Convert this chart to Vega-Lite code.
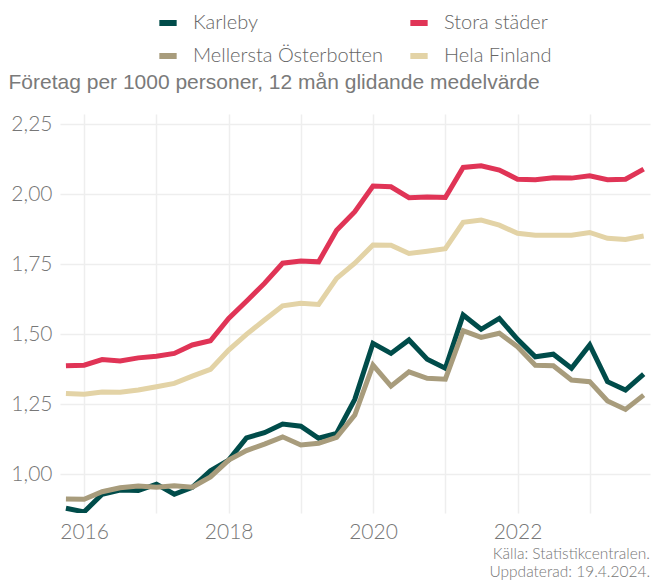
{
  "$schema": "https://vega.github.io/schema/vega-lite/v6.json",
  "autosize": {"type": "none"},
  "width": 590,
  "height": 399,
  "padding": {"left": 60, "top": 114, "right": 2, "bottom": 71},
  "background": "white",
  "config": {
    "view": {"stroke": null},
    "font": "Lato"
  },
  "title": {
    "text": ["Källa: Statistikcentralen.", "Uppdaterad: 19.4.2024."],
    "orient": "bottom",
    "anchor": "end",
    "frame": "group",
    "offset": 5,
    "font": "Lato",
    "fontSize": 15.5,
    "fontWeight": 300,
    "color": "#777777",
    "lineHeight": 18,
    "align": "right"
  },
  "data": {
    "values": [
      {"date":"2015-10-01","serie":"Stora städer","value":1.388},
      {"date":"2016-01-01","serie":"Stora städer","value":1.390},
      {"date":"2016-04-01","serie":"Stora städer","value":1.410},
      {"date":"2016-07-01","serie":"Stora städer","value":1.405},
      {"date":"2016-10-01","serie":"Stora städer","value":1.416},
      {"date":"2017-01-01","serie":"Stora städer","value":1.422},
      {"date":"2017-04-01","serie":"Stora städer","value":1.432},
      {"date":"2017-07-01","serie":"Stora städer","value":1.462},
      {"date":"2017-10-01","serie":"Stora städer","value":1.477},
      {"date":"2018-01-01","serie":"Stora städer","value":1.557},
      {"date":"2018-04-01","serie":"Stora städer","value":1.618},
      {"date":"2018-07-01","serie":"Stora städer","value":1.682},
      {"date":"2018-10-01","serie":"Stora städer","value":1.754},
      {"date":"2019-01-01","serie":"Stora städer","value":1.762},
      {"date":"2019-04-01","serie":"Stora städer","value":1.759},
      {"date":"2019-07-01","serie":"Stora städer","value":1.872},
      {"date":"2019-10-01","serie":"Stora städer","value":1.938},
      {"date":"2020-01-01","serie":"Stora städer","value":2.030},
      {"date":"2020-04-01","serie":"Stora städer","value":2.027},
      {"date":"2020-07-01","serie":"Stora städer","value":1.988},
      {"date":"2020-10-01","serie":"Stora städer","value":1.991},
      {"date":"2021-01-01","serie":"Stora städer","value":1.989},
      {"date":"2021-04-01","serie":"Stora städer","value":2.096},
      {"date":"2021-07-01","serie":"Stora städer","value":2.102},
      {"date":"2021-10-01","serie":"Stora städer","value":2.087},
      {"date":"2022-01-01","serie":"Stora städer","value":2.054},
      {"date":"2022-04-01","serie":"Stora städer","value":2.052},
      {"date":"2022-07-01","serie":"Stora städer","value":2.059},
      {"date":"2022-10-01","serie":"Stora städer","value":2.058},
      {"date":"2023-01-01","serie":"Stora städer","value":2.066},
      {"date":"2023-04-01","serie":"Stora städer","value":2.052},
      {"date":"2023-07-01","serie":"Stora städer","value":2.054},
      {"date":"2023-10-01","serie":"Stora städer","value":2.090},

      {"date":"2015-10-01","serie":"Hela Finland","value":1.289},
      {"date":"2016-01-01","serie":"Hela Finland","value":1.286},
      {"date":"2016-04-01","serie":"Hela Finland","value":1.294},
      {"date":"2016-07-01","serie":"Hela Finland","value":1.293},
      {"date":"2016-10-01","serie":"Hela Finland","value":1.301},
      {"date":"2017-01-01","serie":"Hela Finland","value":1.313},
      {"date":"2017-04-01","serie":"Hela Finland","value":1.325},
      {"date":"2017-07-01","serie":"Hela Finland","value":1.351},
      {"date":"2017-10-01","serie":"Hela Finland","value":1.375},
      {"date":"2018-01-01","serie":"Hela Finland","value":1.444},
      {"date":"2018-04-01","serie":"Hela Finland","value":1.500},
      {"date":"2018-07-01","serie":"Hela Finland","value":1.551},
      {"date":"2018-10-01","serie":"Hela Finland","value":1.602},
      {"date":"2019-01-01","serie":"Hela Finland","value":1.611},
      {"date":"2019-04-01","serie":"Hela Finland","value":1.607},
      {"date":"2019-07-01","serie":"Hela Finland","value":1.700},
      {"date":"2019-10-01","serie":"Hela Finland","value":1.754},
      {"date":"2020-01-01","serie":"Hela Finland","value":1.819},
      {"date":"2020-04-01","serie":"Hela Finland","value":1.818},
      {"date":"2020-07-01","serie":"Hela Finland","value":1.789},
      {"date":"2020-10-01","serie":"Hela Finland","value":1.797},
      {"date":"2021-01-01","serie":"Hela Finland","value":1.806},
      {"date":"2021-04-01","serie":"Hela Finland","value":1.900},
      {"date":"2021-07-01","serie":"Hela Finland","value":1.908},
      {"date":"2021-10-01","serie":"Hela Finland","value":1.890},
      {"date":"2022-01-01","serie":"Hela Finland","value":1.861},
      {"date":"2022-04-01","serie":"Hela Finland","value":1.854},
      {"date":"2022-07-01","serie":"Hela Finland","value":1.854},
      {"date":"2022-10-01","serie":"Hela Finland","value":1.854},
      {"date":"2023-01-01","serie":"Hela Finland","value":1.864},
      {"date":"2023-04-01","serie":"Hela Finland","value":1.843},
      {"date":"2023-07-01","serie":"Hela Finland","value":1.839},
      {"date":"2023-10-01","serie":"Hela Finland","value":1.851},

      {"date":"2015-10-01","serie":"Karleby","value":0.879},
      {"date":"2016-01-01","serie":"Karleby","value":0.866},
      {"date":"2016-04-01","serie":"Karleby","value":0.929},
      {"date":"2016-07-01","serie":"Karleby","value":0.944},
      {"date":"2016-10-01","serie":"Karleby","value":0.942},
      {"date":"2017-01-01","serie":"Karleby","value":0.965},
      {"date":"2017-04-01","serie":"Karleby","value":0.929},
      {"date":"2017-07-01","serie":"Karleby","value":0.954},
      {"date":"2017-10-01","serie":"Karleby","value":1.013},
      {"date":"2018-01-01","serie":"Karleby","value":1.051},
      {"date":"2018-04-01","serie":"Karleby","value":1.130},
      {"date":"2018-07-01","serie":"Karleby","value":1.149},
      {"date":"2018-10-01","serie":"Karleby","value":1.180},
      {"date":"2019-01-01","serie":"Karleby","value":1.172},
      {"date":"2019-04-01","serie":"Karleby","value":1.129},
      {"date":"2019-07-01","serie":"Karleby","value":1.146},
      {"date":"2019-10-01","serie":"Karleby","value":1.268},
      {"date":"2020-01-01","serie":"Karleby","value":1.468},
      {"date":"2020-04-01","serie":"Karleby","value":1.432},
      {"date":"2020-07-01","serie":"Karleby","value":1.480},
      {"date":"2020-10-01","serie":"Karleby","value":1.411},
      {"date":"2021-01-01","serie":"Karleby","value":1.379},
      {"date":"2021-04-01","serie":"Karleby","value":1.569},
      {"date":"2021-07-01","serie":"Karleby","value":1.518},
      {"date":"2021-10-01","serie":"Karleby","value":1.557},
      {"date":"2022-01-01","serie":"Karleby","value":1.482},
      {"date":"2022-04-01","serie":"Karleby","value":1.420},
      {"date":"2022-07-01","serie":"Karleby","value":1.429},
      {"date":"2022-10-01","serie":"Karleby","value":1.379},
      {"date":"2023-01-01","serie":"Karleby","value":1.462},
      {"date":"2023-04-01","serie":"Karleby","value":1.331},
      {"date":"2023-07-01","serie":"Karleby","value":1.301},
      {"date":"2023-10-01","serie":"Karleby","value":1.358},

      {"date":"2015-10-01","serie":"Mellersta Österbotten","value":0.912},
      {"date":"2016-01-01","serie":"Mellersta Österbotten","value":0.911},
      {"date":"2016-04-01","serie":"Mellersta Österbotten","value":0.938},
      {"date":"2016-07-01","serie":"Mellersta Österbotten","value":0.952},
      {"date":"2016-10-01","serie":"Mellersta Österbotten","value":0.958},
      {"date":"2017-01-01","serie":"Mellersta Österbotten","value":0.954},
      {"date":"2017-04-01","serie":"Mellersta Österbotten","value":0.959},
      {"date":"2017-07-01","serie":"Mellersta Österbotten","value":0.954},
      {"date":"2017-10-01","serie":"Mellersta Österbotten","value":0.991},
      {"date":"2018-01-01","serie":"Mellersta Österbotten","value":1.051},
      {"date":"2018-04-01","serie":"Mellersta Österbotten","value":1.085},
      {"date":"2018-07-01","serie":"Mellersta Österbotten","value":1.108},
      {"date":"2018-10-01","serie":"Mellersta Österbotten","value":1.134},
      {"date":"2019-01-01","serie":"Mellersta Österbotten","value":1.105},
      {"date":"2019-04-01","serie":"Mellersta Österbotten","value":1.111},
      {"date":"2019-07-01","serie":"Mellersta Österbotten","value":1.132},
      {"date":"2019-10-01","serie":"Mellersta Österbotten","value":1.212},
      {"date":"2020-01-01","serie":"Mellersta Österbotten","value":1.390},
      {"date":"2020-04-01","serie":"Mellersta Österbotten","value":1.315},
      {"date":"2020-07-01","serie":"Mellersta Österbotten","value":1.366},
      {"date":"2020-10-01","serie":"Mellersta Österbotten","value":1.343},
      {"date":"2021-01-01","serie":"Mellersta Österbotten","value":1.340},
      {"date":"2021-04-01","serie":"Mellersta Österbotten","value":1.513},
      {"date":"2021-07-01","serie":"Mellersta Österbotten","value":1.489},
      {"date":"2021-10-01","serie":"Mellersta Österbotten","value":1.504},
      {"date":"2022-01-01","serie":"Mellersta Österbotten","value":1.456},
      {"date":"2022-04-01","serie":"Mellersta Österbotten","value":1.390},
      {"date":"2022-07-01","serie":"Mellersta Österbotten","value":1.388},
      {"date":"2022-10-01","serie":"Mellersta Österbotten","value":1.337},
      {"date":"2023-01-01","serie":"Mellersta Österbotten","value":1.331},
      {"date":"2023-04-01","serie":"Mellersta Österbotten","value":1.262},
      {"date":"2023-07-01","serie":"Mellersta Österbotten","value":1.232},
      {"date":"2023-10-01","serie":"Mellersta Österbotten","value":1.283}
    ]
  },
  "mark": {"type": "line", "strokeWidth": 5, "strokeJoin": "miter", "clip": true},
  "encoding": {
    "x": {
      "field": "date",
      "type": "temporal",
      "scale": {"type": "utc", "domain": ["2015-09-01", "2023-11-02"], "nice": false},
      "axis": {
        "title": null,
        "values": [
          {"year": 2016, "month": 1, "date": 1, "utc": true},
          {"year": 2017, "month": 1, "date": 1, "utc": true},
          {"year": 2018, "month": 1, "date": 1, "utc": true},
          {"year": 2019, "month": 1, "date": 1, "utc": true},
          {"year": 2020, "month": 1, "date": 1, "utc": true},
          {"year": 2021, "month": 1, "date": 1, "utc": true},
          {"year": 2022, "month": 1, "date": 1, "utc": true},
          {"year": 2023, "month": 1, "date": 1, "utc": true}
        ],
        "labelExpr": "utcyear(datum.value) % 2 == 0 ? utcFormat(datum.value, '%Y') : ''",
        "domain": false,
        "ticks": false,
        "grid": true,
        "gridColor": "#eeeeee",
        "gridWidth": 1.5,
        "labelFont": "Lato",
        "labelFontWeight": 300,
        "labelFontSize": 21,
        "labelColor": "#777777",
        "labelPadding": 8,
        "labelFlush": false,
        "labelOverlap": false
      }
    },
    "y": {
      "field": "value",
      "type": "quantitative",
      "scale": {"domain": [0.862, 2.287], "nice": false, "zero": false},
      "axis": {
        "title": "Företag per 1000 personer, 12 mån glidande medelvärde",
        "titleAngle": 0,
        "titleAlign": "left",
        "titleBaseline": "alphabetic",
        "titleX": -52,
        "titleY": -26,
        "titleFont": "Liberation Sans",
        "titleFontSize": 21,
        "titleFontWeight": "normal",
        "titleColor": "#7a7a7a",
        "values": [1, 1.25, 1.5, 1.75, 2, 2.25],
        "labelExpr": "replace(format(datum.value, '.2f'), '.', ',')",
        "domain": false,
        "ticks": false,
        "grid": true,
        "gridColor": "#eeeeee",
        "gridWidth": 1.5,
        "labelFont": "Lato",
        "labelFontWeight": 300,
        "labelFontSize": 21,
        "labelColor": "#777777",
        "labelPadding": 8
      }
    },
    "color": {
      "field": "serie",
      "type": "nominal",
      "scale": {
        "domain": ["Karleby", "Stora städer", "Mellersta Österbotten", "Hela Finland"],
        "range": ["#004c4a", "#e03456", "#a89c7c", "#e3d3a6"]
      },
      "legend": {
        "title": null,
        "orient": "none",
        "legendX": 96,
        "legendY": -103,
        "direction": "horizontal",
        "columns": 2,
        "padding": 0,
        "symbolType": "stroke",
        "symbolStrokeWidth": 6,
        "symbolSize": 300,
        "labelOffset": 13,
        "columnPadding": 14,
        "rowPadding": 9,
        "labelFont": "Lato",
        "labelFontWeight": 300,
        "labelFontSize": 20,
        "labelColor": "#666666",
        "labelLimit": 400
      }
    }
  }
}
